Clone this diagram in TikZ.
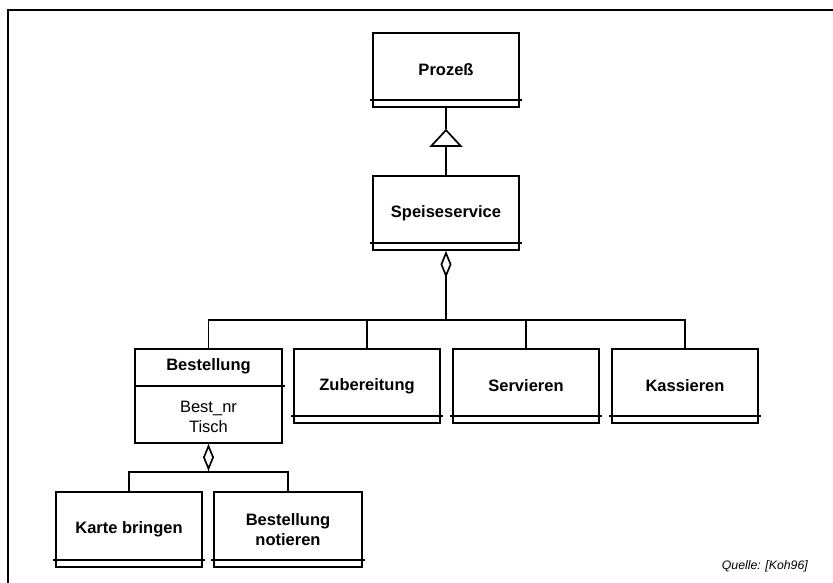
\documentclass[tikz,border=0pt]{standalone}
\usepackage{fontspec}
\setmainfont{Liberation Sans}
\usetikzlibrary{arrows.meta}

\tikzset{
  line/.style={line width=1.7pt, line join=miter},
  cls/.style={line, draw, rectangle, inner sep=0pt, align=center,
    font=\fontsize{16.5}{20}\selectfont\bfseries},
  attr/.style={inner sep=0pt, align=center, font=\fontsize{16.5}{20}\selectfont},
  aggr/.style={line, -{Diamond[open, length=27pt, width=11pt, line width=1.7pt]}},
  inherit/.style={line, -{Triangle[open, length=18pt, width=33pt, line width=1.7pt]}},
  src/.style={inner sep=0pt, font=\fontsize{12.3}{14}\selectfont\itshape}
}

% draws the empty lower compartment line of a class box
\newcommand{\compline}[1]{%
  \draw[line] ([xshift=-2pt,yshift=8pt]#1.south west) -- ([xshift=2pt,yshift=8pt]#1.south east);}

\begin{document}
\begin{tikzpicture}[x=1pt, y=-1pt]
\useasboundingbox (0,0) rectangle (833,583);

% frame
\draw[line] (8,583) -- (8,10) -- (833,10);

% classes
\node[cls, minimum width=146pt, minimum height=74pt] (proz) at (446,70) {Prozeß};
\node[cls, minimum width=146pt, minimum height=74pt] (ss) at (446,213) {Speiseservice};

\node[line, draw, rectangle, minimum width=147pt, minimum height=94pt, inner sep=0pt] (best) at (208.5,396) {};
\node[cls, draw=none] (besttitle) at (208.5,366) {Bestellung};
\draw[line] (best.west |- 0,386) -- ([xshift=2pt]best.east |- 0,386);
\node[attr] (bestattr) at (208.5,417) {Best\_nr\\Tisch};

\node[cls, minimum width=146pt, minimum height=74pt] (zub) at (367,386) {Zubereitung};
\node[cls, minimum width=146pt, minimum height=74pt] (ser) at (526,386) {Servieren};
\node[cls, minimum width=146pt, minimum height=74pt] (kas) at (685,386) {Kassieren};

\node[cls, minimum width=146pt, minimum height=75pt] (karte) at (129,529.5) {Karte bringen};
\node[cls, minimum width=148pt, minimum height=75pt] (notiz) at (288,529.5) {Bestellung\\notieren};

\foreach \b in {proz,ss,zub,ser,kas,karte,notiz} {\compline{\b}}

% generalization
\coordinate (apex) at ([yshift=-21pt]proz.south);
\draw[inherit] (ss.north) -- (apex);
\draw[line] (apex) -- (proz.south);

% aggregation of Speiseservice
\coordinate (hub) at (446,320);
\draw[line] (best.north) |- (kas.north |- hub) -- (kas.north);
\draw[line] (zub.north) -- (zub.north |- hub);
\draw[line] (ser.north) -- (ser.north |- hub);
\draw[aggr] (ss.south |- hub) -- (ss.south);

% aggregation of Bestellung
\coordinate (hub2) at (208.5,472);
\draw[line] (karte.north) |- (notiz.north |- hub2) -- (notiz.north);
\draw[aggr] (hub2) -- (best.south);

% source note
\node[src, anchor=base east] (quelle) at (808,569) {Quelle: [Koh96]};
\end{tikzpicture}
\end{document}
